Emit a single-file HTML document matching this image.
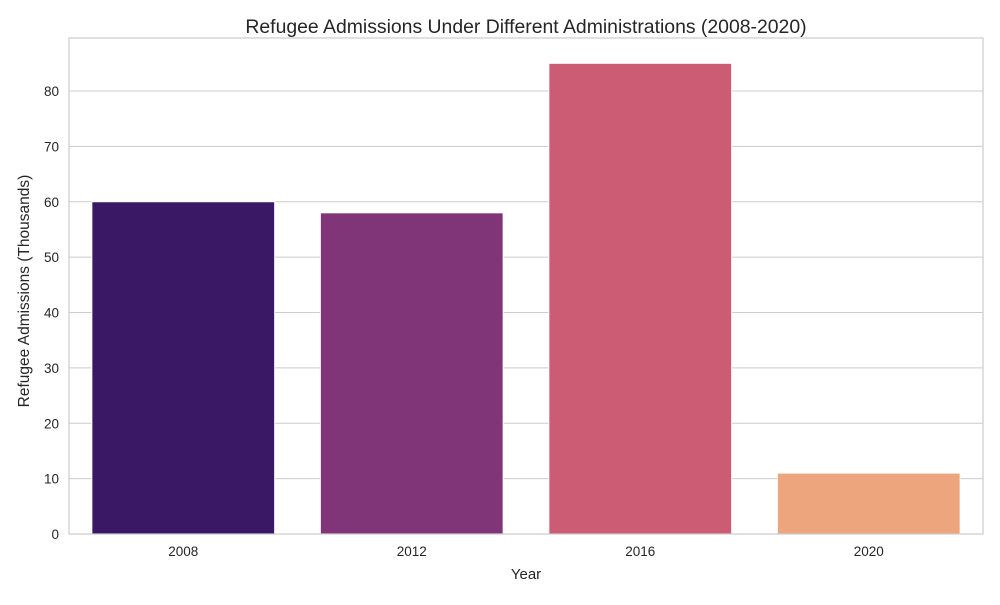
<!DOCTYPE html>
<html><head><meta charset="utf-8"><style>
body{margin:0;background:#fff;font-family:"Liberation Sans","DejaVu Sans",sans-serif;}
svg text{font-family:"Liberation Sans","DejaVu Sans",sans-serif;fill:#262626;}
</style></head><body>
<svg id="chart" width="1000" height="600" xmlns="http://www.w3.org/2000/svg">
<rect width="1000" height="600" fill="#fff"/>
<text x="526" y="33" font-size="19.4" text-anchor="middle">Refugee Admissions Under Different Administrations (2008-2020)</text>
<g id="grid"></g>
<g id="bars"></g>
<rect x="69" y="38" width="914" height="496" fill="none" stroke="#cccccc" stroke-width="1.2"/>
<g id="yticks"></g>
<g id="xticks"></g>
<text x="526" y="579" font-size="15" text-anchor="middle">Year</text>
<text transform="translate(29,291) rotate(-90)" font-size="15.5" text-anchor="middle">Refugee Admissions (Thousands)</text>
</svg>
<script>
const categories = ["2008","2012","2016","2020"];
const values = [60, 58, 85, 11];
const colors = ["#3b1865","#7f3577","#cc5b74","#eda57d"];
const yTicks = [0,10,20,30,40,50,60,70,80];

const L=69,R=983,T=38,B=534;
const pxPer10=55.375;
const y=v=>B-v*pxPer10/10;
const band=(R-L)/categories.length;
const x=i=>L+band*i+band/2;
const NS="http://www.w3.org/2000/svg";
function mk(tag,attrs,parent){const e=document.createElementNS(NS,tag);for(const k in attrs)e.setAttribute(k,attrs[k]);parent.appendChild(e);return e;}
const grid=document.getElementById('grid'),bars=document.getElementById('bars'),yt=document.getElementById('yticks'),xt=document.getElementById('xticks');
yTicks.forEach(t=>{
  const ln=mk('line',{x1:L,x2:R,y1:y(t),y2:y(t),stroke:'#cccccc','stroke-width':1.1},grid);
  
  
  const tx=mk('text',{x:L-10,y:y(t)+5,'font-size':13.5,'text-anchor':'end'},yt);
  tx.textContent=t;
  
  
});
categories.forEach((c,i)=>{
  const w=band*0.8;
  const r=mk('rect',{x:x(i)-w/2,y:y(values[i]),width:w,height:B-y(values[i]),fill:colors[i],stroke:'#fff','stroke-width':1},bars);
  
  
  const tx=mk('text',{x:x(i),y:556,'font-size':13.5,'text-anchor':'middle'},xt);
  tx.textContent=c;
  
  
});
</script>
</body></html>
